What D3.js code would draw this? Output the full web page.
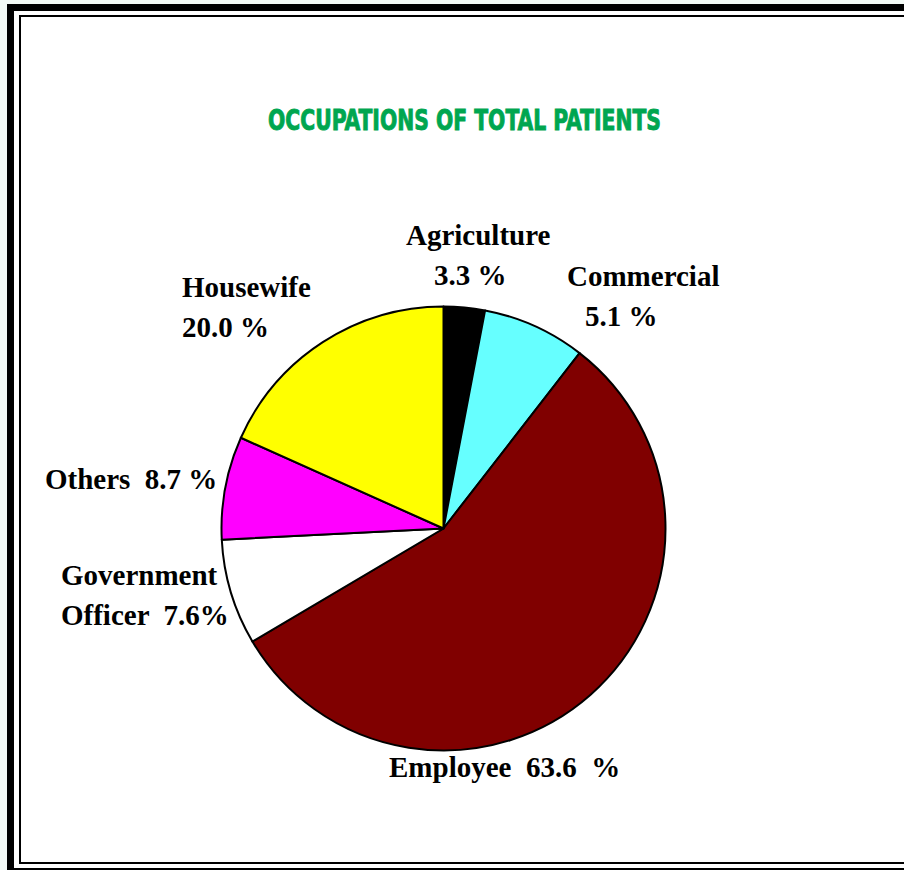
<!DOCTYPE html>
<html>
<head>
<meta charset="utf-8">
<script src="https://cdn.jsdelivr.net/npm/d3@7"></script>
<style>
  html, body { margin: 0; padding: 0; background: #f3faf6; }
  svg { display: block; }
</style>
</head>
<body>
<div id="chart"></div>
<script>
// occupations, clockwise from 12 o'clock
const categories = ["Agriculture", "Commercial", "Employee", "Government Officer", "Others", "Housewife"];
// slice sizes as drawn (measured from the slice angles)
const sliceValues = [3.0, 7.5, 56.0, 7.7, 7.5, 18.3];
// percentages as printed on the labels
const labelLines = [
    ["Agriculture", "3.3 %"],
    ["Commercial", "5.1 %"],
    ["Employee  63.6  %"],
    ["Government", "Officer  7.6%"],
    ["Others  8.7 %"],
    ["Housewife", "20.0 %"]
];
const colors = ["#000000", "#66ffff", "#800000", "#ffffff", "#ff00ff", "#ffff00"];

(function() {
    const width = 904, height = 870;
    const cx = 443.5, cy = 528.5, radius = 222;

    // where each label block sits: x of every line, first baseline
    const labelLayout = [
        { x: [406, 434], y: 245 },
        { x: [567, 585], y: 286 },
        { x: [389], y: 777 },
        { x: [61, 61], y: 585 },
        { x: [45], y: 489 },
        { x: [182, 182], y: 297 }
    ];
    const lineGap = 40;

    const svg = d3.select("#chart")
        .append("svg")
        .attr("width", width)
        .attr("height", height);

    // frame
    svg.append("rect")
        .attr("x", 7).attr("y", 4)
        .attr("width", 1000).attr("height", 1000)
        .attr("fill", "#000");
    svg.append("rect")
        .attr("x", 14).attr("y", 11)
        .attr("width", 1000).attr("height", 857)
        .attr("fill", "#fff");
    svg.append("rect")
        .attr("x", 20).attr("y", 16)
        .attr("width", 1000).attr("height", 847)
        .attr("fill", "none")
        .attr("stroke", "#000")
        .attr("stroke-width", 2);

    // title
    svg.append("text")
        .attr("x", 268)
        .attr("y", 130)
        .attr("textLength", 393)
        .attr("lengthAdjust", "spacingAndGlyphs")
        .attr("font-family", "'Liberation Sans Narrow', 'DejaVu Sans Condensed', 'Liberation Sans', sans-serif")
        .attr("font-weight", "bold")
        .attr("font-size", 29)
        .attr("fill", "#00a650")
        .attr("stroke", "#00a650")
        .attr("stroke-width", 0.9)
        .text("OCCUPATIONS  OF  TOTAL  PATIENTS");

    const data = categories.map((c, i) => ({ name: c, value: sliceValues[i], color: colors[i] }));

    const pie = d3.pie()
        .sort(null)
        .value(d => d.value);

    const arc = d3.arc()
        .innerRadius(0)
        .outerRadius(radius);

    const g = svg.append("g")
        .attr("transform", `translate(${cx},${cy})`);

    g.selectAll("path")
        .data(pie(data))
        .join("path")
        .attr("d", arc)
        .attr("fill", d => d.data.color)
        .attr("stroke", "#000")
        .attr("stroke-width", 2)
        .attr("stroke-linejoin", "round");

    // labels
    const labels = svg.append("g")
        .attr("font-family", "'Liberation Serif', 'Times New Roman', serif")
        .attr("font-weight", "bold")
        .attr("font-size", 29)
        .attr("fill", "#000");

    labelLines.forEach((lines, i) => {
        const pos = labelLayout[i];
        const t = labels.append("text")
            .style("white-space", "pre");
        lines.forEach((line, j) => {
            t.append("tspan")
                .attr("x", pos.x[j])
                .attr("y", pos.y + j * lineGap)
                .text(line);
        });
    });
})();
</script>
</body>
</html>
